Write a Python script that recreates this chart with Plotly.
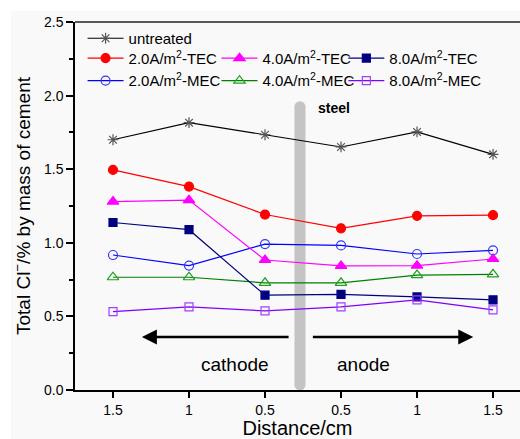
import plotly.graph_objects as go

categories = ["1.5", "1", "0.5", "0.5 ", "1 ", "1.5 "]
positions = [0, 1, 2, 3, 4, 5]

untreated = [1.70, 1.816, 1.734, 1.651, 1.753, 1.601]
tec_2 = [1.495, 1.382, 1.192, 1.098, 1.183, 1.188]
tec_4 = [1.28, 1.29, 0.883, 0.843, 0.845, 0.890]
tec_8 = [1.138, 1.089, 0.644, 0.650, 0.632, 0.612]
mec_2 = [0.917, 0.845, 0.991, 0.982, 0.924, 0.949]
mec_4 = [0.766, 0.766, 0.728, 0.728, 0.781, 0.786]
mec_8 = [0.533, 0.565, 0.537, 0.565, 0.612, 0.544]

FONT = "Arial, Liberation Sans, sans-serif"
BG = "#f9f9f9"

series = [
    ("untreated", untreated, "#000000", "#555555", "asterisk-open", 9, "legend"),
    ("2.0A/m<sup>2</sup>-TEC", tec_2, "#ff0000", "#ff0000", "circle", 9, "legend2"),
    ("2.0A/m<sup>2</sup>-MEC", mec_2, "#0000ff", "#3333ff", "circle-open", 9, "legend2"),
    ("4.0A/m<sup>2</sup>-TEC", tec_4, "#ff00ff", "#ff00ff", "triangle-up", 10, "legend3"),
    ("4.0A/m<sup>2</sup>-MEC", mec_4, "#008000", "#20a020", "triangle-up-open", 10, "legend3"),
    ("8.0A/m<sup>2</sup>-TEC", tec_8, "#000080", "#000080", "square", 8, "legend4"),
    ("8.0A/m<sup>2</sup>-MEC", mec_8, "#8000ff", "#a040ff", "square-open", 8, "legend4"),
]

fig = go.Figure()
for name, vals, lc, mc, sym, size, lg in series:
    fig.add_trace(go.Scatter(
        x=positions, y=vals, name=name, mode="lines+markers",
        line=dict(color=lc, width=1.2),
        marker=dict(symbol=sym, size=size, color=mc, line=dict(color=mc, width=1.2)),
        legend=lg, showlegend=True,
    ))

# steel bar
steel_x = 2.46
fig.add_shape(type="rect", xref="x", yref="y", xsizemode="pixel", xanchor=steel_x,
              x0=-5.5, x1=5.5, y0=0.035, y1=1.925, fillcolor="#c4c4c4", line_width=0, layer="below")
for yc in (0.035, 1.925):
    fig.add_shape(type="circle", xref="x", yref="y", xsizemode="pixel", ysizemode="pixel",
                  xanchor=steel_x, yanchor=yc, x0=-5.5, x1=5.5, y0=-5.5, y1=5.5,
                  fillcolor="#c4c4c4", line_width=0, layer="below")

# top border line
fig.add_shape(type="line", xref="paper", yref="paper", x0=0, x1=1, y0=1, y1=1,
              line=dict(color="#222", width=1.5))
# white outer frame strips
fig.add_shape(type="rect", xref="paper", yref="paper", x0=-0.2, x1=-0.1438, y0=-0.2, y1=1.1,
              fillcolor="white", line_width=0, layer="below")
fig.add_shape(type="rect", xref="paper", yref="paper", x0=-0.2, x1=1.1, y0=1.0298, y1=1.1,
              fillcolor="white", line_width=0, layer="below")

# arrows
fig.add_annotation(x=0.38, y=0.36, ax=2.33, ay=0.36, xref="x", yref="y", axref="x", ayref="y",
                   text="", showarrow=True, arrowhead=2, arrowsize=1.2, arrowwidth=2.5, arrowcolor="#000")
fig.add_annotation(x=4.74, y=0.36, ax=2.61, ay=0.36, xref="x", yref="y", axref="x", ayref="y",
                   text="", showarrow=True, arrowhead=2, arrowsize=1.2, arrowwidth=2.5, arrowcolor="#000")
fig.add_annotation(x=1.6, y=0.17, xref="x", yref="y", text="cathode", showarrow=False,
                   font=dict(family=FONT, size=19, color="#000"))
fig.add_annotation(x=3.29, y=0.17, xref="x", yref="y", text="anode", showarrow=False,
                   font=dict(family=FONT, size=19, color="#000"))
fig.add_annotation(x=2.91, y=1.915, xref="x", yref="y", text="<b>steel</b>", showarrow=False,
                   font=dict(family=FONT, size=14, color="#000"))

leg_common = dict(bgcolor="rgba(0,0,0,0)", borderwidth=0, font=dict(family=FONT, size=15, color="#000"),
                  xanchor="left", yanchor="top", tracegroupgap=0, itemwidth=36)
fig.update_layout(
    width=520, height=439,
    margin=dict(l=75, r=0, t=22, b=47),
    paper_bgcolor=BG, plot_bgcolor=BG,
    font=dict(family=FONT, size=14, color="#000"),
    showlegend=True,
    legend=dict(x=0.017, y=1.0, **leg_common),
    legend2=dict(x=0.017, y=0.946, **leg_common),
    legend3=dict(x=0.318, y=0.946, **leg_common),
    legend4=dict(x=0.603, y=0.946, **leg_common),
    xaxis=dict(range=[-0.5, 5.355], tickmode="array", tickvals=positions, ticktext=[c.strip() for c in categories],
               showline=True, linecolor="#000", linewidth=1.5, ticks="outside", ticklen=6, tickwidth=1.5,
               tickcolor="#000", showgrid=False, zeroline=False, tickfont=dict(size=14),
               title=dict(text="Distance/cm", font=dict(size=20), standoff=7)),
    yaxis=dict(range=[0, 2.5], tickvals=[0, 0.5, 1.0, 1.5, 2.0, 2.5], tickformat=".1f",
               showline=True, linecolor="#000", linewidth=1.5, ticks="outside", ticklen=7, tickwidth=1.5,
               tickcolor="#000", showgrid=False, zeroline=False, tickfont=dict(size=14),
               minor=dict(tickvals=[0.25, 0.75, 1.25, 1.75, 2.25], ticks="outside", ticklen=4, tickcolor="#000"),
               title=dict(text="Total Cl<sup>−</sup>/% by mass of cement", font=dict(size=19), standoff=8)),
)

fig.write_html("out.html")
